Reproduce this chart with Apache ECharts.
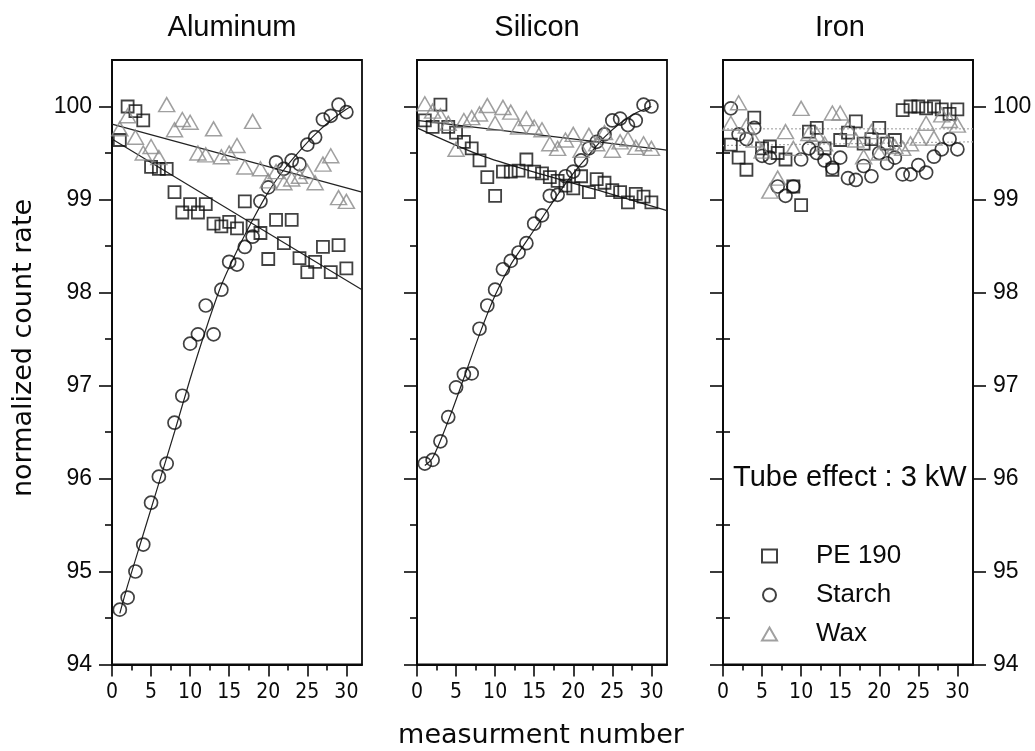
<!DOCTYPE html>
<html><head><meta charset="utf-8">
<script src="https://cdn.jsdelivr.net/npm/echarts@6/dist/echarts.min.js"></script>
<style>html,body{margin:0;padding:0;background:#fff}#c{width:1035px;height:751px}</style>
</head><body><div id="c"></div>
<script>
// ---------- data ----------
const panelTitles = ['Aluminum', 'Silicon', 'Iron'];
const legendNames = ['PE 190', 'Starch', 'Wax'];
const xTicks = [0, 5, 10, 15, 20, 25, 30];
const xMinorTicks = [2.5, 7.5, 12.5, 17.5, 22.5, 27.5];
const yTicks = [94, 95, 96, 97, 98, 99, 100];
const yMinorTicks = [94.5, 95.5, 96.5, 97.5, 98.5, 99.5];
const measurement = [1,2,3,4,5,6,7,8,9,10,11,12,13,14,15,16,17,18,19,20,21,22,23,24,25,26,27,28,29,30];

const alPE = [99.64,100.0,99.95,99.85,99.35,99.33,99.33,99.08,98.86,98.95,98.86,98.95,98.74,98.71,98.76,98.69,98.98,98.72,98.64,98.36,98.78,98.53,98.78,98.37,98.22,98.33,98.49,98.22,98.51,98.26];
const alStarch = [94.59,94.72,95.0,95.29,95.74,96.02,96.16,96.6,96.89,97.45,97.55,97.86,97.55,98.03,98.33,98.3,98.49,98.6,98.98,99.13,99.4,99.33,99.42,99.38,99.59,99.67,99.86,99.9,100.02,99.94];
const alWax = [99.76,99.9,99.67,99.5,99.57,99.45,100.02,99.75,99.86,99.83,99.5,99.48,99.76,99.46,99.5,99.58,99.35,99.84,99.33,99.2,99.3,99.18,99.22,99.25,99.3,99.18,99.38,99.47,99.02,98.98];
const alPEFit = [[0, 99.65], [32, 98.03]];
const alStarchFit = [[1,94.55],[2,94.85],[4,95.4],[6,95.95],[8,96.5],[10,97.07],[12,97.6],[14,98.08],[16,98.45],[18,98.78],[20,99.08],[22,99.32],[24,99.52],[26,99.7],[28,99.85],[30,99.97],[30.6,100.0]];
const alWaxFit = [[0, 99.81], [32, 99.08]];

const siPE = [99.85,99.78,100.02,99.78,99.72,99.62,99.55,99.42,99.24,99.04,99.3,99.3,99.31,99.43,99.3,99.28,99.24,99.2,99.15,99.12,99.25,99.08,99.22,99.18,99.1,99.08,98.97,99.06,99.03,98.97];
const siStarch = [96.16,96.2,96.4,96.66,96.98,97.12,97.13,97.61,97.86,98.03,98.25,98.34,98.43,98.53,98.74,98.83,99.04,99.05,99.25,99.3,99.42,99.55,99.62,99.7,99.85,99.87,99.8,99.85,100.02,100.0];
const siWax = [100.03,99.95,99.9,99.82,99.54,99.85,99.88,99.92,100.01,99.82,99.99,99.94,99.78,99.87,99.78,99.75,99.6,99.55,99.64,99.7,99.53,99.69,99.6,99.72,99.53,99.62,99.65,99.56,99.6,99.55];
const siPEFit = [[0,99.77],[8,99.48],[16,99.27],[24,99.08],[32,98.88]];
const siStarchFit = [[1,96.14],[2,96.22],[4,96.62],[6,97.08],[8,97.55],[10,97.97],[12,98.3],[14,98.55],[16,98.8],[18,99.05],[20,99.28],[22,99.48],[24,99.67],[26,99.82],[28,99.93],[30,100.0]];
const siWaxFit = [[0, 99.85], [32, 99.53]];

const fePE = [99.59,99.45,99.32,99.88,99.55,99.57,99.5,99.43,99.14,98.94,99.73,99.77,99.55,99.32,99.64,99.72,99.84,99.6,99.65,99.77,99.6,99.64,99.96,100.0,100.0,99.98,100.0,99.97,99.92,99.97];
const feStarch = [99.98,99.7,99.65,99.77,99.47,99.45,99.14,99.04,99.14,99.43,99.55,99.5,99.42,99.34,99.45,99.23,99.21,99.36,99.25,99.5,99.39,99.45,99.27,99.27,99.37,99.29,99.46,99.54,99.65,99.54];
const feWax = [99.82,100.04,99.79,99.64,99.52,99.09,99.23,99.73,99.55,99.98,99.71,99.7,99.6,99.93,99.93,99.77,99.64,99.46,99.73,99.5,99.62,99.57,99.55,99.6,99.66,99.82,99.66,99.91,99.85,99.8];
const feWaxFit = [[0, 99.76], [32, 99.76]];
const fePEFit = [[0, 99.58], [32, 99.62]];

// ---------- layout / style ----------
const FONT = '"Liberation Sans", Arial, Helvetica, sans-serif';
const NARROW = '"Liberation Sans Narrow", "Arial Narrow", "DejaVu Sans Condensed", sans-serif';
const WIDE = '"DejaVu Sans", "Liberation Sans", sans-serif';
const INK = '#0a0a0a';
const gridLefts = [112, 417, 723];

const pairs = (vals) => measurement.map((m, i) => [m, vals[i]]);

const grids = gridLefts.map(l => ({
  left: l, top: 60, width: 250, height: 604.5,
  show: true, borderColor: INK, borderWidth: 1.8, backgroundColor: 'transparent'
}));

const xAxes = [];
gridLefts.forEach((_, g) => {
  xAxes.push({
    gridIndex: g, type: 'value', min: 0, max: 32, position: 'bottom',
    axisLine: { show: true, lineStyle: { color: INK, width: 2 } },
    axisTick: { show: true, inside: false, length: 12, customValues: xTicks, lineStyle: { color: INK, width: 1.6 } },
    axisLabel: { show: true, customValues: xTicks, margin: 18, fontFamily: NARROW, fontSize: 21, color: INK },
    splitLine: { show: false }
  });
  xAxes.push({
    gridIndex: g, type: 'value', min: 0, max: 32, position: 'bottom',
    axisLine: { show: false },
    axisTick: { show: true, inside: false, length: 6, customValues: xMinorTicks, lineStyle: { color: INK, width: 1.6 } },
    axisLabel: { show: false },
    splitLine: { show: false }
  });
});

function yMajor(g, pos, labels) {
  return {
    gridIndex: g, type: 'value', min: 94, max: 100.5, position: pos,
    axisLine: { show: true, onZero: false, lineStyle: { color: INK, width: 1.8 } },
    axisTick: { show: true, inside: false, length: 13, customValues: yTicks, lineStyle: { color: INK, width: 1.6 } },
    axisLabel: { show: labels, customValues: yTicks, margin: 20, fontFamily: FONT, fontSize: 23, color: INK },
    splitLine: { show: false }
  };
}
function yMinor(g, pos) {
  return {
    gridIndex: g, type: 'value', min: 94, max: 100.5, position: pos,
    axisLine: { show: false },
    axisTick: { show: true, inside: false, length: 7, customValues: yMinorTicks, lineStyle: { color: INK, width: 1.6 } },
    axisLabel: { show: false },
    splitLine: { show: false }
  };
}
const yAxes = [
  yMajor(0, 'left', true), yMinor(0, 'left'),
  yMajor(1, 'left', false), yMinor(1, 'left'),
  yMajor(2, 'left', false), yMinor(2, 'left'),
  yMajor(2, 'right', true), yMinor(2, 'right')
];
const yMain = [0, 2, 4];

const markerStyle = {
  'PE 190': { symbol: 'rect', size: 12, color: '#111', width: 1.8 },
  'Starch': { symbol: 'circle', size: 13, color: '#111', width: 1.7 },
  'Wax':    { symbol: 'triangle', size: [16, 14], color: '#888', width: 1.5 }
};

function scatter(g, name, vals) {
  const s = markerStyle[name];
  return {
    name, type: 'scatter', xAxisIndex: 2 * g, yAxisIndex: yMain[g],
    symbol: s.symbol, symbolSize: s.size,
    itemStyle: { color: 'transparent', borderColor: s.color, borderWidth: s.width },
    data: pairs(vals), z: 3, silent: true
  };
}
function fit(g, pts, smooth, dotted) {
  return {
    name: 'fit', type: 'line', xAxisIndex: 2 * g, yAxisIndex: yMain[g],
    data: pts, smooth: smooth ? 0.3 : false, showSymbol: false, symbol: 'none',
    lineStyle: dotted ? { color: '#aaa', width: 1.2, type: [2, 2] } : { color: '#222', width: 1.2 },
    z: 2, silent: true
  };
}

const series = [
  fit(0, alPEFit, false), fit(0, alStarchFit, true), fit(0, alWaxFit, false),
  scatter(0, 'PE 190', alPE), scatter(0, 'Starch', alStarch), scatter(0, 'Wax', alWax),
  fit(1, siPEFit, true), fit(1, siStarchFit, true), fit(1, siWaxFit, false),
  scatter(1, 'PE 190', siPE), scatter(1, 'Starch', siStarch), scatter(1, 'Wax', siWax),
  fit(2, fePEFit, false, true), fit(2, feWaxFit, false, true),
  scatter(2, 'PE 190', fePE), scatter(2, 'Starch', feStarch), scatter(2, 'Wax', feWax)
];

const titleX = [232, 537, 840];
const graphic = panelTitles.map((t, i) => ({
  type: 'text', x: titleX[i], y: 28,
  style: { text: t, font: '29px ' + FONT, fill: INK, textAlign: 'center', textVerticalAlign: 'middle' }
}));
graphic.push({
  type: 'text', x: 24, y: 348, rotation: Math.PI / 2,
  style: { text: 'normalized count rate', font: '27px ' + WIDE, fill: INK, textAlign: 'center', textVerticalAlign: 'middle' }
});
graphic.push({
  type: 'text', x: 541, y: 736,
  style: { text: 'measurment number', font: '27px ' + WIDE, fill: INK, textAlign: 'center', textVerticalAlign: 'middle' }
});
graphic.push({
  type: 'text', x: 733, y: 478,
  style: { text: 'Tube effect : 3 kW', font: '29px ' + FONT, fill: INK, textAlign: 'left', textVerticalAlign: 'middle' }
});

const option = {
  animation: false,
  backgroundColor: '#fff',
  grid: grids,
  xAxis: xAxes,
  yAxis: yAxes,
  legend: {
    orient: 'vertical', left: 761, top: 543, padding: 0, itemGap: 13,
    itemWidth: 15, itemHeight: 13, selectedMode: false,
    data: [
      { name: 'PE 190', icon: 'rect' },
      { name: 'Starch', icon: 'circle' },
      { name: 'Wax', icon: 'triangle' }
    ],
    textStyle: { fontFamily: FONT, fontSize: 26, color: INK, padding: [0, 0, 0, 34] }
  },
  graphic,
  series
};

const chart = echarts.init(document.getElementById('c'), null, { renderer: 'canvas' });
chart.setOption(option);
</script>
</body></html>
